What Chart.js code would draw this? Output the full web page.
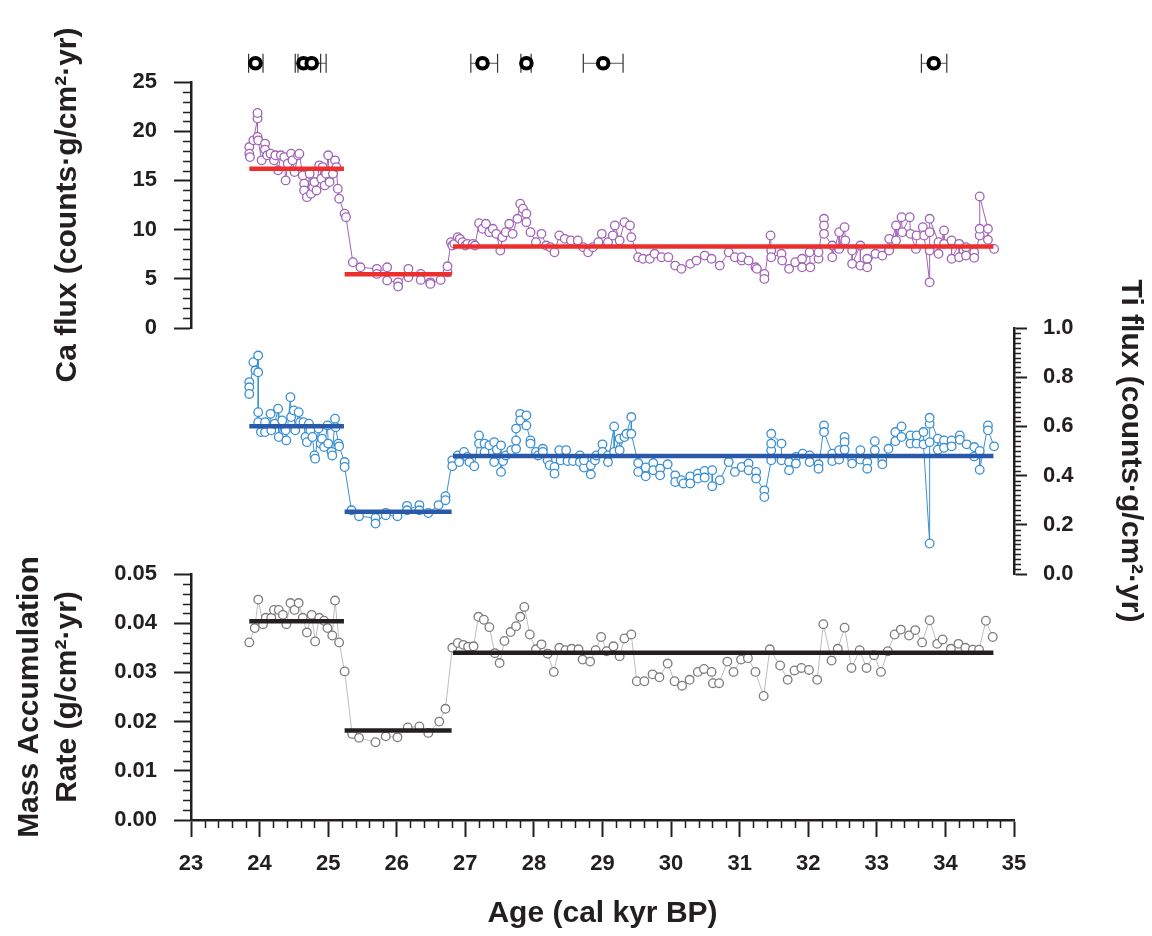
<!DOCTYPE html>
<html>
<head>
<meta charset="utf-8">
<script src="https://cdn.jsdelivr.net/npm/chart.js@4.4.1/dist/chart.umd.min.js"></script>
<style>
  html, body { margin: 0; padding: 0; background: #fff; }
  #wrap { width: 1152px; height: 936px; position: relative; }
</style>
</head>
<body>
<div id="wrap"><canvas id="cores"></canvas></div>
<script>
// ---- data ----
const caAge = [23.85,23.85,23.86,23.91,23.97,23.97,23.97,23.98,24.03,24.08,24.08,24.11,24.16,24.21,24.23,24.27,24.31,24.36,24.38,24.41,
  24.46,24.48,24.51,24.56,24.58,24.63,24.65,24.65,24.69,24.73,24.75,24.78,24.80,24.83,24.87,24.90,24.92,24.95,24.97,25.00,
  25.02,25.07,25.10,25.12,25.14,25.16,25.24,25.26,25.36,25.47,25.71,25.71,25.86,25.86,26.02,26.02,26.17,26.17,26.35,26.35,
  26.49,26.49,26.64,26.74,26.74,26.79,26.81,26.84,26.89,26.92,26.96,27.00,27.03,27.11,27.14,27.20,27.25,27.30,27.35,27.40,
  27.45,27.51,27.54,27.59,27.64,27.69,27.76,27.80,27.84,27.89,27.89,27.95,28.03,28.11,28.18,28.24,28.30,28.37,28.45,28.54,
  28.64,28.72,28.79,28.86,28.94,28.99,29.08,29.15,29.18,29.25,29.32,29.40,29.42,29.52,29.59,29.69,29.76,29.86,29.96,30.06,
  30.15,30.28,30.37,30.49,30.59,30.71,30.84,30.93,31.03,31.03,31.13,31.23,31.25,31.36,31.36,31.45,31.46,31.46,31.61,31.62,
  31.72,31.81,31.91,31.91,32.02,32.03,32.15,32.15,32.23,32.23,32.23,32.35,32.35,32.45,32.45,32.53,32.54,32.64,32.64,32.76,
  32.76,32.86,32.86,32.98,33.08,33.18,33.18,33.28,33.28,33.36,33.37,33.48,33.49,33.57,33.58,33.67,33.69,33.77,33.77,33.77,
  33.77,33.90,33.90,33.98,33.98,34.09,34.09,34.20,34.20,34.30,34.30,34.42,34.42,34.50,34.50,34.50,34.62,34.62,34.71];
const caVal = [18.39,17.72,17.37,19.07,21.28,21.85,19.41,19.07,17.04,18.74,18.13,17.55,17.72,17.04,17.55,16.02,17.55,17.37,15.00,16.70,
  17.72,17.04,15.85,17.55,17.72,15.51,14.66,13.98,13.30,15.68,13.65,14.32,14.83,13.98,16.53,15.17,16.35,14.49,15.68,17.55,
  14.83,15.68,17.04,16.35,14.15,13.14,11.61,11.26,6.68,6.17,6.01,5.50,6.17,4.82,4.64,4.21,6.01,5.15,5.50,4.89,
  4.64,4.48,4.89,5.66,6.27,8.72,8.38,8.55,9.23,9.06,8.72,8.38,8.55,8.55,8.38,10.65,10.08,10.59,9.74,10.08,
  9.57,7.87,9.23,9.74,10.59,9.57,11.10,12.63,12.12,11.61,10.75,9.74,8.72,9.57,8.38,8.21,7.70,9.40,9.06,8.89,
  8.89,8.21,7.70,8.21,8.72,9.57,8.72,9.40,10.42,8.89,10.75,10.42,9.23,7.19,7.03,7.03,7.54,7.19,7.19,6.34,
  6.01,6.52,6.85,7.36,7.03,6.34,7.70,7.19,6.85,7.19,6.85,6.17,6.01,5.50,4.99,9.40,7.87,7.19,7.54,6.85,
  6.01,6.68,7.03,6.17,7.70,6.17,7.03,7.70,11.10,10.42,9.57,8.38,7.19,9.74,8.04,10.25,8.89,7.87,6.52,8.38,
  6.34,7.03,6.17,7.54,7.36,9.06,7.87,10.42,8.89,11.26,9.74,11.26,9.57,8.04,9.40,10.25,9.40,4.64,7.87,9.74,
  11.10,8.72,7.54,9.91,8.55,8.89,7.03,8.55,7.19,8.21,7.36,7.70,7.13,9.40,10.08,13.37,10.08,8.96,8.04];

const tiAge = [23.85,23.85,23.85,23.91,23.94,23.98,23.98,23.98,23.98,24.02,24.08,24.08,24.16,24.17,24.22,24.27,24.28,24.33,24.38,24.39,
  24.45,24.46,24.50,24.52,24.57,24.59,24.64,24.67,24.69,24.72,24.74,24.77,24.80,24.81,24.86,24.89,24.91,24.94,24.99,25.00,
  25.05,25.06,25.10,25.11,25.15,25.16,25.24,25.24,25.34,25.45,25.69,25.69,25.84,25.84,26.01,26.15,26.15,26.33,26.33,26.46,
  26.61,26.71,26.71,26.81,26.81,26.89,26.91,26.98,27.03,27.06,27.13,27.20,27.20,27.28,27.28,27.35,27.42,27.42,27.46,27.52,
  27.52,27.55,27.59,27.67,27.74,27.74,27.74,27.80,27.80,27.89,27.89,27.95,27.95,28.03,28.06,28.13,28.13,28.20,28.23,28.30,
  28.30,28.37,28.39,28.47,28.49,28.57,28.67,28.67,28.73,28.73,28.83,28.83,28.89,28.91,29.00,29.00,29.08,29.08,29.17,29.17,
  29.25,29.25,29.32,29.35,29.42,29.42,29.52,29.52,29.63,29.63,29.74,29.74,29.84,29.84,29.95,30.06,30.06,30.15,30.18,30.28,
  30.28,30.39,30.39,30.49,30.49,30.60,30.60,30.71,30.84,30.93,31.03,31.13,31.13,31.24,31.24,31.36,31.36,31.46,31.46,31.46,
  31.46,31.61,31.61,31.72,31.72,31.82,31.82,31.92,32.02,32.02,32.15,32.15,32.23,32.23,32.35,32.35,32.45,32.45,32.53,32.53,
  32.53,32.64,32.64,32.76,32.76,32.86,32.86,32.97,32.97,33.08,33.08,33.17,33.27,33.27,33.36,33.36,33.49,33.49,33.58,33.58,
  33.68,33.68,33.77,33.77,33.77,33.77,33.89,33.89,33.98,33.98,34.09,34.09,34.21,34.21,34.31,34.42,34.42,34.50,34.50,34.62,
  34.62,34.71];
const tiVal = [0.780,0.759,0.732,0.861,0.827,0.888,0.820,0.658,0.617,0.577,0.617,0.577,0.651,0.584,0.611,0.672,0.557,0.624,0.584,0.543,
  0.719,0.638,0.665,0.584,0.658,0.617,0.617,0.557,0.536,0.611,0.584,0.557,0.482,0.469,0.591,0.530,0.550,0.516,0.604,0.530,
  0.496,0.482,0.631,0.597,0.530,0.519,0.455,0.435,0.259,0.235,0.228,0.205,0.248,0.239,0.235,0.277,0.259,0.280,0.259,0.248,
  0.280,0.316,0.300,0.462,0.438,0.482,0.455,0.496,0.476,0.455,0.438,0.563,0.530,0.530,0.496,0.523,0.536,0.455,0.505,0.523,
  0.415,0.459,0.482,0.503,0.509,0.543,0.591,0.651,0.624,0.645,0.604,0.543,0.530,0.496,0.482,0.509,0.496,0.462,0.442,0.435,
  0.408,0.503,0.462,0.503,0.459,0.459,0.482,0.455,0.433,0.462,0.442,0.405,0.462,0.482,0.527,0.496,0.482,0.455,0.600,0.496,
  0.550,0.503,0.557,0.570,0.638,0.570,0.451,0.415,0.433,0.397,0.451,0.422,0.428,0.401,0.446,0.401,0.374,0.381,0.368,0.397,
  0.368,0.408,0.388,0.419,0.392,0.422,0.357,0.381,0.455,0.415,0.435,0.449,0.422,0.415,0.388,0.340,0.313,0.462,0.503,0.530,
  0.570,0.530,0.462,0.455,0.422,0.476,0.449,0.489,0.482,0.455,0.446,0.428,0.604,0.577,0.489,0.459,0.503,0.465,0.557,0.536,
  0.505,0.469,0.449,0.503,0.465,0.455,0.428,0.540,0.503,0.462,0.446,0.509,0.577,0.540,0.600,0.557,0.563,0.530,0.563,0.530,
  0.577,0.527,0.124,0.536,0.611,0.635,0.550,0.505,0.543,0.513,0.543,0.519,0.563,0.546,0.527,0.516,0.478,0.500,0.424,0.604,
  0.584,0.519];

const marAge = [23.85,23.93,23.98,24.05,24.09,24.17,24.21,24.28,24.34,24.39,24.45,24.51,24.57,24.63,24.69,24.76,24.81,24.87,24.94,24.99,
  25.06,25.10,25.16,25.24,25.35,25.45,25.69,25.84,26.01,26.16,26.33,26.46,26.62,26.71,26.81,26.89,26.97,27.04,27.12,27.19,
  27.27,27.35,27.43,27.50,27.57,27.66,27.74,27.80,27.86,27.94,28.03,28.11,28.20,28.29,28.37,28.46,28.55,28.65,28.71,28.82,
  28.90,28.98,29.06,29.16,29.25,29.32,29.42,29.50,29.61,29.73,29.83,29.95,30.05,30.16,30.27,30.39,30.48,30.59,30.61,30.70,
  30.82,30.91,31.02,31.12,31.23,31.35,31.44,31.59,31.70,31.80,31.90,32.01,32.13,32.22,32.34,32.43,32.53,32.63,32.75,32.85,
  32.96,33.06,33.16,33.26,33.35,33.47,33.56,33.66,33.77,33.88,33.96,34.08,34.19,34.29,34.40,34.49,34.59,34.69];
const marVal = [0.0361,0.0390,0.0448,0.0398,0.0411,0.0411,0.0427,0.0427,0.0417,0.0398,0.0441,0.0427,0.0441,0.0411,0.0381,0.0417,0.0363,0.0411,0.0405,0.0390,
  0.0375,0.0446,0.0361,0.0302,0.0175,0.0167,0.0158,0.0170,0.0168,0.0188,0.0190,0.0177,0.0200,0.0226,0.0350,0.0360,0.0356,0.0352,0.0353,0.0413,
  0.0407,0.0392,0.0339,0.0319,0.0364,0.0382,0.0394,0.0413,0.0433,0.0377,0.0347,0.0357,0.0338,0.0301,0.0350,0.0345,0.0348,0.0347,0.0326,0.0322,
  0.0345,0.0372,0.0343,0.0353,0.0333,0.0369,0.0377,0.0282,0.0282,0.0296,0.0290,0.0318,0.0282,0.0273,0.0285,0.0301,0.0307,0.0301,0.0278,0.0278,
  0.0322,0.0301,0.0326,0.0329,0.0301,0.0252,0.0347,0.0314,0.0285,0.0304,0.0309,0.0305,0.0285,0.0398,0.0324,0.0348,0.0391,0.0309,0.0345,0.0309,
  0.0335,0.0301,0.0343,0.0377,0.0387,0.0375,0.0386,0.0361,0.0406,0.0358,0.0367,0.0348,0.0358,0.0350,0.0346,0.0346,0.0405,0.0372];

// interval means (start, end, level)
const meanStart = [23.85, 25.24, 26.82];
const meanEnd = [25.23, 26.80, 34.70];
const caMean = [16.19, 5.46, 8.28];
const tiMean = [0.601, 0.253, 0.480];
const marMean = [0.0404, 0.0182, 0.0340];

// radiocarbon ages with 2-sigma range
const dateAge = [23.94, 24.64, 24.76, 27.25, 27.89, 29.01, 33.83];
const dateLo = [23.84, 24.52, 24.56, 27.08, 27.81, 28.72, 33.65];
const dateHi = [24.05, 24.89, 24.97, 27.47, 27.96, 29.30, 34.02];
const dateY = 0.52; // row position inside the thin strip above the Ca panel

const xTicks = [23, 35, 1];

// ---- styling ----
const ink = '#231f20';
const FONT = "'Liberation Sans', Arial, Helvetica, sans-serif";
const tickFont = { family: FONT, size: 22, weight: 'bold' };
const titleFont = { family: FONT, size: 30, weight: 'bold', lineHeight: 1.25 };

const pts = (xs, ys) => xs.map((x, i) => ({ x, y: ys[i] }));

function series(label, xs, ys, axis, color, lineColor) {
  return {
    label, yAxisID: axis, data: pts(xs, ys), order: 3,
    borderColor: lineColor, borderWidth: 1,
    pointRadius: 4.3, pointBorderWidth: 1.3,
    pointBorderColor: color, pointBackgroundColor: '#fff'
  };
}

function means(levels, axis, color) {
  return levels.map((v, i) => ({
    label: 'mean', yAxisID: axis, order: 2,
    data: [{ x: meanStart[i], y: v }, { x: meanEnd[i], y: v }],
    borderColor: color, borderWidth: 4.5, pointRadius: 0
  }));
}

const errBars = dateLo.map((lo, i) => ({
  label: 'age range', yAxisID: 'yTop', order: 1,
  data: [{ x: lo, y: dateY }, { x: dateHi[i], y: dateY }],
  borderColor: '#555', borderWidth: 1,
  pointStyle: 'line', pointRotation: 90, pointRadius: 9.5,
  pointBorderWidth: 1.2, pointBorderColor: '#333'
}));

const dateDots = {
  label: 'dates', yAxisID: 'yTop', order: 0, showLine: false,
  data: dateAge.map(x => ({ x, y: dateY })),
  pointRadius: 5.3, pointBorderWidth: 4,
  pointBorderColor: '#000', pointBackgroundColor: '#fff'
};

// minor ticks are not built in, so draw them off the scales
const minorSpec = [
  { id: 'x', step: 0.2, every: 5, len: 8 },
  { id: 'yCa', step: 1, every: 5, len: 8 },
  { id: 'yMAR', step: 0.002, every: 5, len: 8 },
  { id: 'yTi', step: 0.02, every: 10, len: 7 }
];
const minorTicks = {
  id: 'minorTicks',
  afterDraw(chart) {
    const ctx = chart.ctx;
    ctx.save();
    ctx.strokeStyle = ink;
    ctx.lineWidth = 1.5;
    minorSpec.forEach(s => {
      const sc = chart.scales[s.id];
      const n = Math.round((sc.max - sc.min) / s.step);
      for (let i = 1; i < n; i++) {
        if (i % s.every === 0) continue;
        const p = Math.round(sc.getPixelForValue(sc.min + i * s.step)) + 0.5;
        ctx.beginPath();
        if (s.id === 'x') {
          ctx.moveTo(p, sc.top); ctx.lineTo(p, sc.top + s.len);
        } else if (sc.position === 'left') {
          ctx.moveTo(sc.right, p); ctx.lineTo(sc.right - s.len, p);
        } else {
          ctx.moveTo(sc.left, p); ctx.lineTo(sc.left + s.len, p);
        }
        ctx.stroke();
      }
    });
    ctx.restore();
  }
};

const LEFT_W = 191, RIGHT_W = 138, BOTTOM_H = 116;
const TOP_STRIP = 36, PANEL = 246;

function yAxis(pos, weight, min, max, step, digits, title, titlePad, tl) {
  return {
    type: 'linear', position: pos, stack: pos, stackWeight: PANEL, weight,
    min, max,
    border: { display: true, color: ink, width: 2.5 },
    grid: { drawOnChartArea: false, drawTicks: true, tickLength: tl, tickWidth: 2, tickColor: ink },
    ticks: { stepSize: step, autoSkip: false, color: ink, font: tickFont, padding: pos === 'left' ? 17 : 16,
             callback: v => v.toFixed(digits) },
    title: { display: true, text: title, color: ink, font: titleFont, padding: titlePad },
    afterFit: s => { s.width = pos === 'left' ? LEFT_W : RIGHT_W; }
  };
}

const gap = (pos, weight, size) => ({
  type: 'linear', position: pos, stack: pos, stackWeight: size, weight,
  min: 0, max: 1, display: false
});

new Chart(document.getElementById('cores'), {
  type: 'line',
  data: {
    datasets: [
      dateDots,
      ...errBars,
      ...means(caMean, 'yCa', '#ec2f2c'),
      ...means(tiMean, 'yTi', '#2a59a8'),
      ...means(marMean, 'yMAR', '#231f20'),
      series('Ca flux', caAge, caVal, 'yCa', '#a064b6', '#a064b6'),
      series('Ti flux', tiAge, tiVal, 'yTi', '#3a8fd2', '#3a8fd2'),
      series('MAR', marAge, marVal, 'yMAR', '#7c7c7c', '#bdbdbd')
    ]
  },
  options: {
    responsive: true,
    maintainAspectRatio: false,
    animation: false,
    layout: { padding: { top: 82 - TOP_STRIP, left: 0, right: 0, bottom: 0 } },
    plugins: { legend: { display: false }, tooltip: { enabled: false } },
    scales: {
      x: {
        type: 'linear', position: 'bottom', min: xTicks[0], max: xTicks[1],
        border: { display: true, color: ink, width: 2.5 },
        grid: { drawOnChartArea: false, tickLength: 17, tickWidth: 2, tickColor: ink },
        ticks: { stepSize: xTicks[2], autoSkip: false, color: ink, font: tickFont, padding: 14 },
        title: { display: true, text: 'Age (cal kyr BP)', color: ink, font: titleFont, padding: { top: 0, bottom: 4 } },
        afterFit: s => { s.height = BOTTOM_H; }
      },
      yTop: gap('left', 4, TOP_STRIP),
      yCa: yAxis('left', 3, 0, 25, 5, 0, 'Ca flux (counts\u00b7g/cm\u00b2\u00b7yr)', { top: 49, bottom: 0 }, 17),
      yGapL: gap('left', 2, PANEL),
      yMAR: yAxis('left', 1, 0, 0.05, 0.01, 2, ['Mass Accumulation', 'Rate (g/cm\u00b2\u00b7yr)'], { top: 11, bottom: 0 }, 17),
      yGapR1: gap('right', 1, TOP_STRIP + PANEL),
      yTi: yAxis('right', 2, 0, 1, 0.2, 1, 'Ti flux (counts\u00b7g/cm\u00b2\u00b7yr)', { top: 3, bottom: 0 }, 13),
      yGapR2: gap('right', 3, PANEL)
    }
  },
  plugins: [minorTicks]
});
</script>
</body>
</html>
